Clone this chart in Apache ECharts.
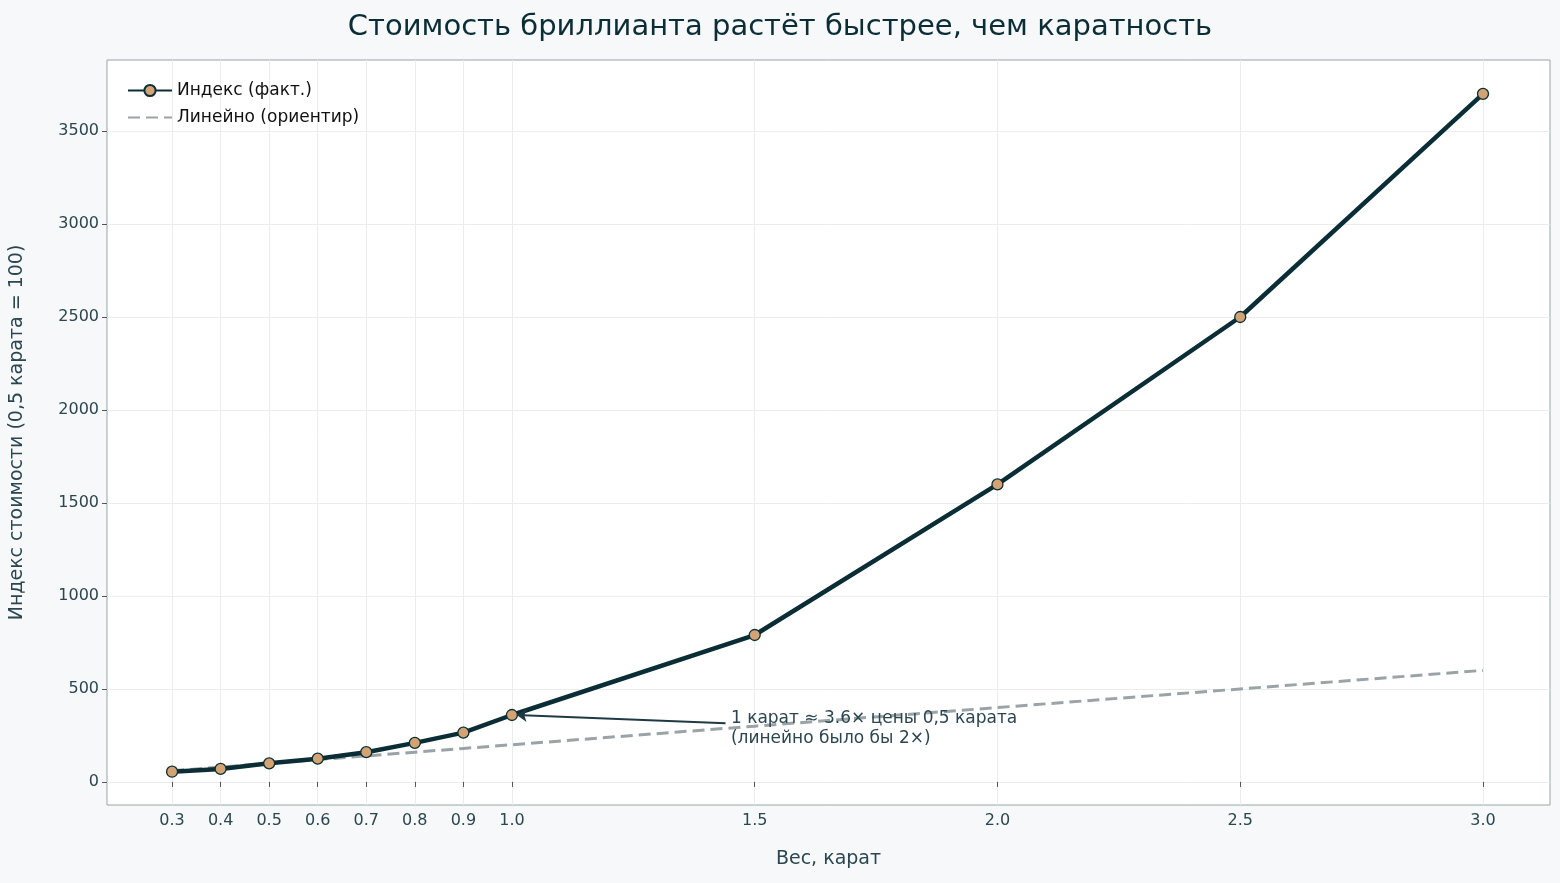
<!DOCTYPE html><html><head><meta charset="utf-8">
<script src="https://cdn.jsdelivr.net/npm/echarts@6/dist/echarts.min.js"></script>
<style>html,body{margin:0;background:#f6f8f9}#c{width:1560px;height:883px}</style></head><body><div id="c"></div>
<script>
const carats=[0.3,0.4,0.5,0.6,0.7,0.8,0.9,1.0,1.5,2.0,2.5,3.0];
const actualIdx=[55,70,100,125,160,210,265,360,790,1600,2500,3700];
const linearIdx=[60,80,100,120,140,160,180,200,300,400,500,600];
const xTicks=[0.3,0.4,0.5,0.6,0.7,0.8,0.9,1.0,1.5,2.0,2.5,3.0];
const yTicks=[0,500,1000,1500,2000,2500,3000,3500];
const txt='#2b4650', dark='#0b2e36';
const grid=[...xTicks.map(v=>({xAxis:v})),...yTicks.map(v=>({yAxis:v}))];
const ch=echarts.init(document.getElementById('c'));
ch.setOption({
 backgroundColor:'#f6f8f9',
 animation:false,
 title:{text:'Стоимость бриллианта растёт быстрее, чем каратность',left:'center',top:8,textStyle:{fontSize:29,fontWeight:'normal',color:dark,fontFamily:'DejaVu Sans'}},
 textStyle:{fontFamily:'DejaVu Sans'},
 legend:{left:122,top:77,orient:'vertical',itemGap:10,itemWidth:44,textStyle:{fontSize:17,color:'#111'},
  data:[{name:'Индекс (факт.)'},{name:'Линейно (ориентир)',itemStyle:{opacity:0}}]},
 grid:{left:107,right:10,top:60,bottom:78,show:true,backgroundColor:'#fff',borderColor:'#99a5a9'},
 xAxis:{type:'value',min:0.166,max:3.138,name:'Вес, карат',nameLocation:'middle',nameGap:45,nameTextStyle:{fontSize:19,color:txt},
  axisLine:{show:false},splitLine:{show:false},
  axisTick:{show:true,customValues:xTicks,lineStyle:{color:'#555'}},
  axisLabel:{customValues:xTicks,fontSize:16,color:txt,formatter:v=>v.toFixed(1)}},
 yAxis:{type:'value',min:-124,max:3882,name:'Индекс стоимости (0,5 карата = 100)',nameLocation:'middle',nameGap:80,nameTextStyle:{fontSize:19,color:txt},
  axisLine:{show:false},splitLine:{show:false},
  axisTick:{show:true,customValues:yTicks,lineStyle:{color:'#555'}},
  axisLabel:{customValues:yTicks,fontSize:16,color:txt,formatter:v=>String(v)}},
 series:[
  {name:'grid',type:'line',data:[],silent:true,z:0,markLine:{silent:true,z:0,symbol:'none',label:{show:false},emphasis:{disabled:true},lineStyle:{color:'#ececec',type:'solid',width:1},data:grid}},
  {name:'Линейно (ориентир)',type:'line',data:carats.map((c,i)=>[c,linearIdx[i]]),symbol:'none',z:3,
   lineStyle:{color:'#9aa3a6',width:3,type:[12,6]},itemStyle:{color:'#9aa3a6'}},
  {name:'Индекс (факт.)',type:'line',data:carats.map((c,i)=>[c,actualIdx[i]]),symbol:'circle',symbolSize:11,z:4,
   lineStyle:{color:dark,width:4.5},itemStyle:{color:'#d4a373',borderColor:dark,borderWidth:1.3},
   markLine:{silent:true,symbol:['none','arrow'],symbolSize:10,label:{show:false},lineStyle:{color:'#1f3a44',width:2,type:'solid'},
    data:[[{coord:[1.44,315]},{coord:[1.01,360]}]]},
   markPoint:{symbol:'circle',symbolSize:0,data:[{coord:[1.451,288]}],
    label:{show:true,position:'right',distance:0,formatter:'1 карат ≈ 3.6× цены 0,5 карата\n(линейно было бы 2×)',fontSize:17,lineHeight:20,color:txt}}}
 ]
});
</script></body></html>
